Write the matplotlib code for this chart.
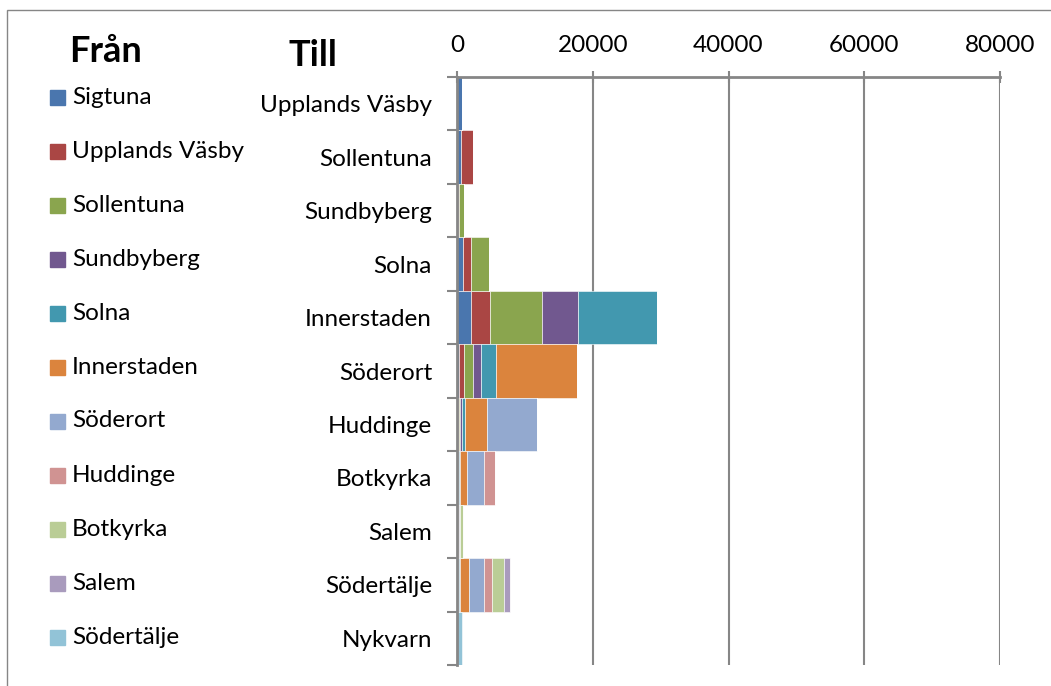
import numpy as np
import matplotlib.pyplot as plt
from matplotlib.patches import Rectangle

plt.rcParams['font.family'] = ['Lato', 'DejaVu Sans']

# Destinations (Till), top to bottom
till = ['Upplands Väsby', 'Sollentuna', 'Sundbyberg', 'Solna', 'Innerstaden',
        'Söderort', 'Huddinge', 'Botkyrka', 'Salem', 'Södertälje', 'Nykvarn']

# Origins (Från), stacking order
fran = ['Sigtuna', 'Upplands Väsby', 'Sollentuna', 'Sundbyberg', 'Solna',
        'Innerstaden', 'Söderort', 'Huddinge', 'Botkyrka', 'Salem', 'Södertälje']

# travellers per origin, one value per destination
sigtuna      = [700, 600, 150, 850, 2000, 300, 100, 50, 20, 50, 0]
upplands_v   = [0, 1800, 200, 1250, 2900, 750, 150, 50, 20, 50, 0]
sollentuna   = [0, 0, 700, 2600, 7600, 1350, 250, 100, 30, 100, 0]
sundbyberg   = [0, 0, 0, 50, 5400, 1200, 250, 100, 30, 50, 0]
solna        = [0, 0, 0, 0, 11500, 2100, 500, 150, 40, 150, 0]
innerstaden  = [0, 0, 0, 0, 0, 12000, 3100, 950, 100, 1400, 0]
soderort     = [0, 0, 0, 0, 0, 0, 7500, 2650, 150, 2200, 0]
huddinge     = [0, 0, 0, 0, 0, 0, 0, 1550, 100, 1150, 0]
botkyrka     = [0, 0, 0, 0, 0, 0, 0, 0, 450, 1750, 0]
salem        = [0, 0, 0, 0, 0, 0, 0, 0, 0, 950, 0]
sodertalje   = [0, 0, 0, 0, 0, 0, 0, 0, 0, 0, 700]

series = [sigtuna, upplands_v, sollentuna, sundbyberg, solna, innerstaden,
          soderort, huddinge, botkyrka, salem, sodertalje]

colours = ['#4A76AE', '#AA4644', '#8AA54E', '#71588F', '#4298AF', '#DB843D',
           '#93A9CF', '#D09392', '#BACD96', '#A99BBD', '#92C3D7']

grey = '#868686'

fig = plt.figure(figsize=(10.51, 6.86), dpi=100)
ax = fig.add_axes([457 / 1051, 1 - 665 / 686, (1000 - 457) / 1051, (665 - 77) / 686])

y = np.arange(len(till))
left = np.zeros(len(till))
for vals, col in zip(series, colours):
    ax.barh(y, vals, left=left, height=1.0, color=col, edgecolor='white',
            linewidth=0.4, zorder=3)
    left += np.array(vals)

ax.set_xlim(0, 80000)
ax.set_ylim(len(till) - 0.5, -0.5)

# x axis on top
ax.xaxis.tick_top()
ax.set_xticks([0, 20000, 40000, 60000, 80000])
ax.tick_params(axis='x', direction='inout', length=8, width=1.5, color=grey,
               labelsize=17.5, pad=11)
ax.grid(axis='x', color=grey, linewidth=1.5, zorder=1)

# y axis: labels at row centres, ticks at row boundaries
ax.set_yticks(y)
ax.set_yticklabels(till)
ax.tick_params(axis='y', length=0, labelsize=17.5, pad=18)
ax.set_yticks(np.arange(len(till) + 1) - 0.5, minor=True)
ax.tick_params(axis='y', which='minor', length=7, width=1.5, color=grey)

for s in ['right', 'bottom']:
    ax.spines[s].set_visible(False)
for s in ['left', 'top']:
    ax.spines[s].set_color(grey)
    ax.spines[s].set_linewidth(2)
    ax.spines[s].set_zorder(4)

# legend drawn by hand on the left
for i, (name, col) in enumerate(zip(fran, colours)):
    yc = 1 - (97 + 54 * i) / 686
    fig.add_artist(Rectangle((50 / 1051, yc - 8 / 686), 15 / 1051, 15 / 686,
                             color=col, transform=fig.transFigure))
    fig.text(72 / 1051, yc, name, fontsize=17.5, va='center', ha='left')

fig.text(105 / 1051, 1 - 52 / 686, 'Från', fontsize=26, fontweight='bold',
         ha='center', va='center')
fig.text(313 / 1051, 1 - 56 / 686, 'Till', fontsize=26, fontweight='bold',
         ha='center', va='center')

# outer chart border (cut off at right and bottom)
fig.add_artist(Rectangle((7 / 1051, -0.1), 1.2, 1.1 - 10 / 686, fill=False,
                         edgecolor=grey, linewidth=1, transform=fig.transFigure))

fig.savefig('out.png', dpi=100)
